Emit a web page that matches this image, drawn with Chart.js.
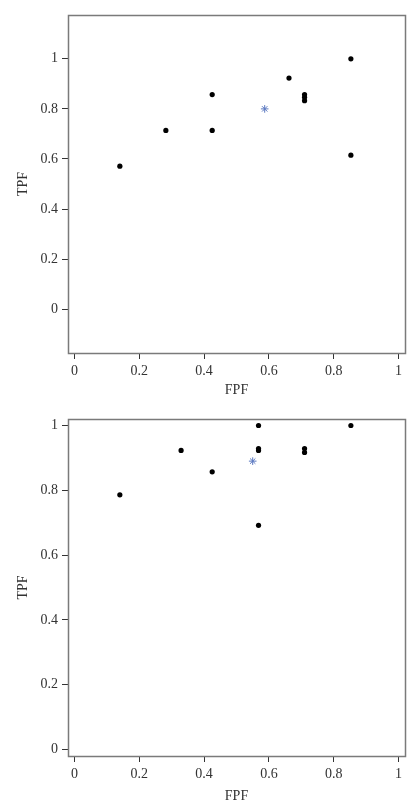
<!DOCTYPE html>
<html>
<head>
<meta charset="utf-8">
<script src="https://cdn.jsdelivr.net/npm/chart.js@4"></script>
<style>
  body { margin: 0; background: #fff; }
  .wrap { position: relative; width: 419px; }
</style>
</head>
<body>
<div class="wrap" style="height:400px"><canvas id="roc_top"></canvas></div>
<div class="wrap" style="height:406px"><canvas id="roc_bottom"></canvas></div>
<script>
// top panel: study points and summary point
const fpfTop = [0.14, 0.282, 0.425, 0.425, 0.662, 0.71, 0.71, 0.71, 0.853, 0.853];
const tpfTop = [0.571, 0.714, 0.714, 0.857, 0.923, 0.857, 0.846, 0.833, 1.0, 0.615];
const summaryTop = [0.587, 0.8];

// bottom panel
const fpfBottom = [0.14, 0.329, 0.425, 0.568, 0.568, 0.568, 0.568, 0.71, 0.71, 0.853];
const tpfBottom = [0.786, 0.923, 0.857, 1.0, 0.929, 0.923, 0.692, 0.929, 0.917, 1.0];
const summaryBottom = [0.55, 0.89];

const xTicks = [0, 0.2, 0.4, 0.6, 0.8, 1];
const yTicks = [0, 0.2, 0.4, 0.6, 0.8, 1];

const textColor = '#333';
const fontFamily = '"Liberation Serif", "DejaVu Serif", serif';

// draw the full box around the plot area
const boxPlugin = {
  id: 'box',
  afterDraw(chart) {
    const { ctx, chartArea: a } = chart;
    ctx.save();
    ctx.strokeStyle = '#7a7a7a';
    ctx.lineWidth = 1.5;
    ctx.strokeRect(a.left + 0.5, a.top + 0.5, a.right - a.left, a.bottom - a.top);
    ctx.restore();
  }
};

function makeChart(id, fpf, tpf, summary, yMin, yMax, topPad, xHeight, titleBottomPad) {
  const points = fpf.map((x, i) => ({ x: x, y: tpf[i] }));
  new Chart(document.getElementById(id), {
    type: 'scatter',
    data: {
      datasets: [
        {
          label: 'Studies',
          data: points,
          pointRadius: 2.6,
          pointBackgroundColor: '#000',
          pointBorderColor: '#000',
          pointBorderWidth: 0
        },
        {
          label: 'Summary',
          data: [{ x: summary[0], y: summary[1] }],
          pointStyle: 'star',
          pointRadius: 3.8,
          pointBorderColor: '#5a78c0',
          pointBorderWidth: 1
        }
      ]
    },
    options: {
      animation: false,
      responsive: true,
      maintainAspectRatio: false,
      layout: { padding: { top: topPad, right: 14, left: 0, bottom: 0 } },
      plugins: { legend: { display: false }, tooltip: { enabled: false } },
      scales: {
        x: {
          type: 'linear',
          min: -0.02,
          max: 1.02,
          afterBuildTicks: s => { s.ticks = xTicks.map(v => ({ value: v })); },
          afterFit: s => { s.height = xHeight; },
          border: { display: false },
          grid: { drawOnChartArea: false, drawTicks: true, tickLength: 6, color: '#333' },
          ticks: {
            color: textColor,
            font: { family: fontFamily, size: 14 },
            padding: 4,
            maxRotation: 0,
            callback: v => String(v)
          },
          title: {
            display: true,
            text: 'FPF',
            color: textColor,
            font: { family: fontFamily, size: 14 },
            padding: { top: 0, bottom: 1 }
          }
        },
        y: {
          type: 'linear',
          min: yMin,
          max: yMax,
          afterBuildTicks: s => { s.ticks = yTicks.map(v => ({ value: v })); },
          afterFit: s => { s.width = 68; },
          border: { display: false },
          grid: { drawOnChartArea: false, drawTicks: true, tickLength: 6, color: '#333' },
          ticks: {
            color: textColor,
            font: { family: fontFamily, size: 14 },
            padding: 4,
            callback: v => String(v)
          },
          title: {
            display: true,
            text: 'TPF',
            color: textColor,
            font: { family: fontFamily, size: 14 },
            padding: { top: 15, bottom: 0 }
          }
        }
      }
    },
    plugins: [boxPlugin]
  });
}

makeChart('roc_top', fpfTop, tpfTop, summaryTop, -0.175, 1.175, 15, 47, 1);
makeChart('roc_bottom', fpfBottom, tpfBottom, summaryBottom, -0.02, 1.02, 19, 50, 3);
</script>
</body>
</html>
